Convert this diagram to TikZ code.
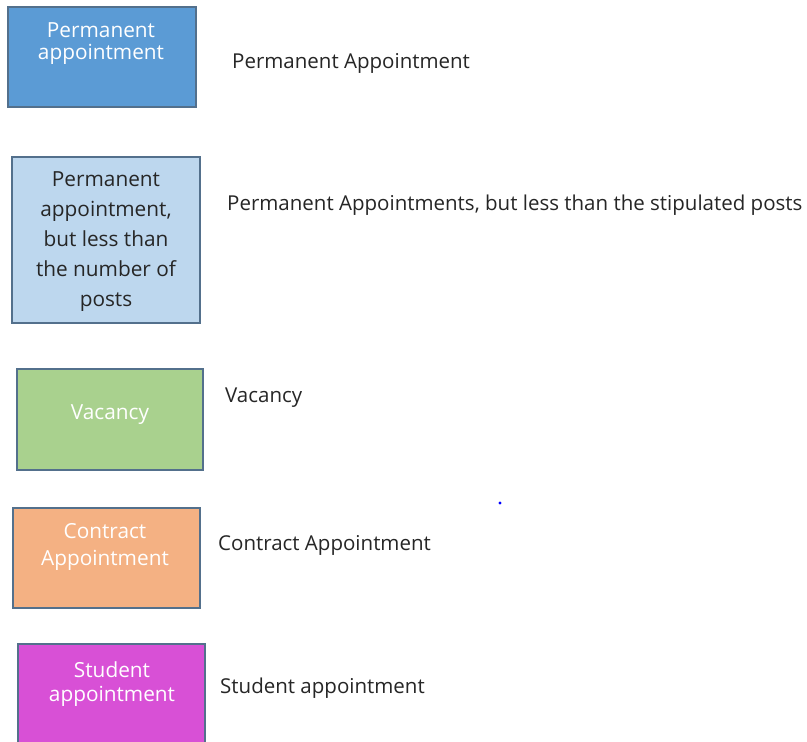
\documentclass[tikz,border=0pt]{standalone}
\usepackage{fontspec}
\setmainfont{Open Sans}
\definecolor{permblue}{HTML}{5B9BD5}
\definecolor{paleblue}{HTML}{BDD7EE}
\definecolor{vacgreen}{HTML}{A9D18E}
\definecolor{contractorange}{HTML}{F4B183}
\definecolor{studentpink}{HTML}{D850D6}
\definecolor{edgeblue}{HTML}{53708C}
\begin{document}
\begin{tikzpicture}[x=1pt, y=-1pt,
    boxline/.style={draw=edgeblue, line width=1.4pt},
    boxtext/.style={text=white, align=center, inner sep=0pt, font=\fontsize{20.8}{22}\selectfont},
    legendtext/.style={anchor=base west, inner sep=0pt, font=\fontsize{20.5}{22}\selectfont, text=black!85}]
        \useasboundingbox (0, 0) rectangle (807, 742);
        \fill[white] (0, 0) rectangle (807, 742);
        % colour swatches
        \filldraw[boxline, fill=permblue] (8, 7) rectangle (196, 107);
        \filldraw[boxline, fill=paleblue] (12, 157) rectangle (200, 323);
        \filldraw[boxline, fill=vacgreen] (17, 369) rectangle (203, 470);
        \filldraw[boxline, fill=contractorange] (13, 508) rectangle (200, 608);
        \filldraw[boxline, fill=studentpink] (18, 644) rectangle (205, 760);
        \node[boxtext] (permbox) at (101, 44) {Permanent\\appointment};
        \node[boxtext, text=black!85, font=\fontsize{20.8}{30}\selectfont] (partbox) at (106, 242) {Permanent\\appointment,\\but less than\\the number of\\posts};
        \node[boxtext] (vacbox) at (110, 415) {Vacancy};
        \node[boxtext, font=\fontsize{20.8}{27}\selectfont] (contractbox) at (105, 547) {Contract\\Appointment};
        \node[boxtext, font=\fontsize{20.8}{24}\selectfont] (studentbox) at (112, 684) {Student\\appointment};
        % legend entries
        \node[legendtext] (permtext) at (232, 68) {Permanent Appointment};
        \node[legendtext] (parttext) at (227, 210) {Permanent Appointments, but less than the stipulated posts};
        \node[legendtext] (vactext) at (225, 402) {Vacancy};
        \node[legendtext] (contracttext) at (218, 550) {Contract Appointment};
        \node[legendtext] (studenttext) at (220, 693) {Student appointment};
        \fill[blue] (500, 503) circle (1.6);
\end{tikzpicture}
\end{document}
